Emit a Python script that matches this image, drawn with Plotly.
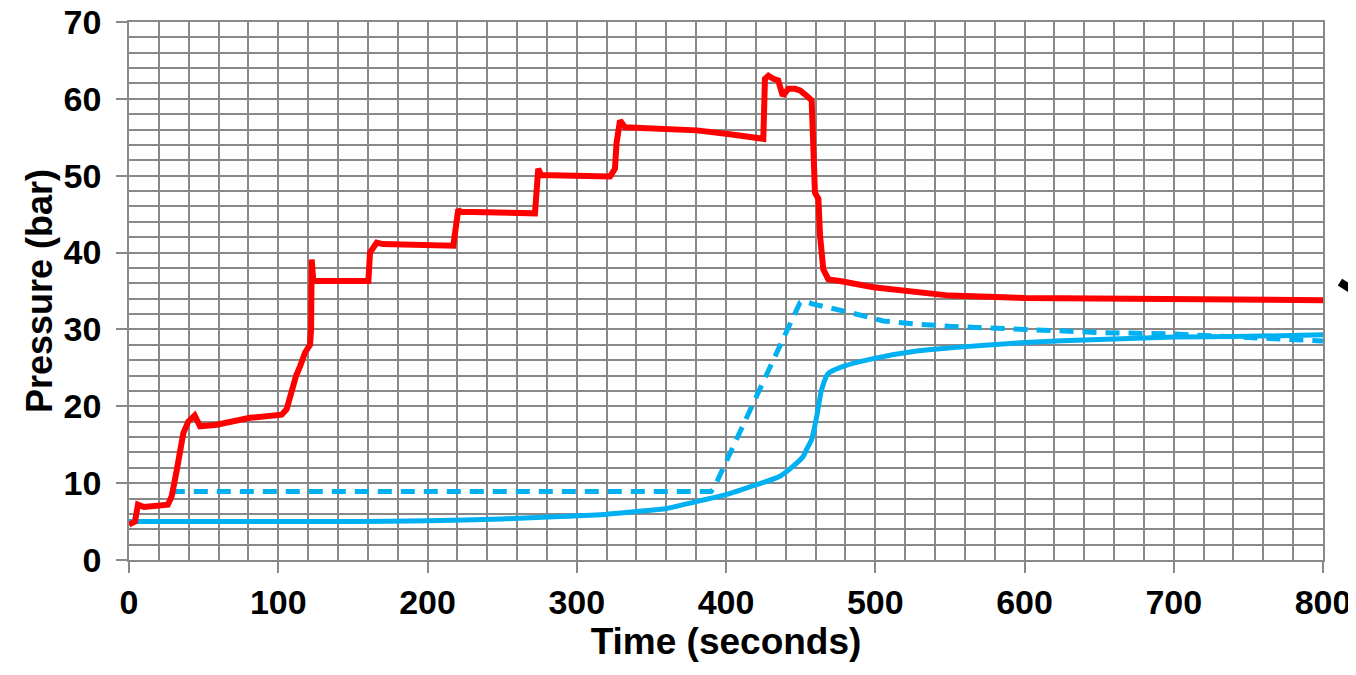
import plotly.graph_objects as go

# ---- data ----
red_t = [0, 4, 6, 10, 26, 28.6, 32, 34.2, 36.4, 39.7, 44, 47.6, 58.8, 81, 102.3, 105.6, 109, 112, 114.6, 118,
         121.3, 122, 122.4, 123.5, 160.4, 161.5, 166, 170, 217.3, 220.6, 222, 272, 274.2, 276, 322.3, 325.6,
         326.7, 329, 332.3, 380.4, 402.7, 425, 426.1, 428.4, 431.7, 435, 438, 441.8, 446.2, 449.6, 454,
         457.4, 459.6, 461.9, 463, 465.2, 468.6, 476.4, 498.7, 516.6, 527.8, 550, 600, 700, 800]
red_v = [4.6, 5, 7.2, 6.9, 7.2, 8.3, 11.7, 14.8, 16.5, 18, 18.8, 17.4, 17.6, 18.5, 18.9, 19.6, 22.2, 24, 25.2, 27,
         28, 30, 39.1, 36.3, 36.3, 40, 41.3, 41.1, 40.9, 45.6, 45.3, 45.1, 50.9, 50.1, 49.9, 50.9,
         54.3, 57.2, 56.3, 55.9, 55.4, 54.8, 62.6, 63, 62.6, 62.4, 60.4, 61.3, 61.3, 61.1, 60.4,
         59.8, 47.8, 47, 42.2, 37.8, 36.5, 36.3, 35.5, 35.1, 34.9, 34.4, 34.1, 33.9, 33.8]

blue_solid_t = [0, 50, 100, 150, 200, 250, 288.8, 320, 340, 360, 380, 400, 420.5, 436.2, 445, 451.8, 454,
                457.4, 460.8, 464.1, 468.6, 478.6, 501, 527.8, 550, 600, 650, 700, 750, 800]
blue_solid_v = [5.0, 5.0, 5.0, 5.0, 5.1, 5.35, 5.65, 5.95, 6.3, 6.7, 7.6, 8.5, 9.8, 10.9, 12.2, 13.5, 14.4,
                15.7, 18.7, 22.2, 24.3, 25.2, 26.3, 27.2, 27.6, 28.3, 28.7, 29.0, 29.1, 29.3]

blue_dash_t = [28, 390, 392, 424, 449.6, 451.8, 458.5, 483, 505.4, 527.8, 550, 600, 650, 700, 750, 800]
blue_dash_v = [8.9, 8.9, 9.4, 23, 33.5, 33.7, 33.3, 32.2, 31.1, 30.7, 30.4, 30.0, 29.6, 29.4, 28.9, 28.5]

x_ticks = [0, 100, 200, 300, 400, 500, 600, 700, 800]
y_ticks = [0, 10, 20, 30, 40, 50, 60, 70]

RED = "#FF0000"
BLUE = "#00B0F0"
GRID = "#898989"
FONT = "Liberation Sans, Arial, sans-serif"

fig = go.Figure()
fig.add_trace(go.Scatter(x=blue_dash_t, y=blue_dash_v, mode="lines",
                         line=dict(color=BLUE, width=5, dash="14px,9px"), showlegend=False))
fig.add_trace(go.Scatter(x=blue_solid_t, y=blue_solid_v, mode="lines",
                         line=dict(color=BLUE, width=5, shape="spline", smoothing=0.6), showlegend=False))
fig.add_trace(go.Scatter(x=red_t, y=red_v, mode="lines",
                         line=dict(color=RED, width=6), showlegend=False))

axis_common = dict(showgrid=True, gridcolor=GRID, gridwidth=1.6, showline=True, linecolor=GRID, linewidth=1.6,
                   ticks="outside", ticklen=11, tickwidth=1.6, tickcolor=GRID, zeroline=False,
                   automargin=False, mirror=True, ticklabeloverflow="allow", ticklabelposition="outside",
                   tickfont=dict(family=FONT, size=34, color="black", weight="bold"))

fig.update_xaxes(range=[0, 800], tickvals=x_ticks, ticktext=[str(v) for v in x_ticks],
                 minor=dict(tickmode="linear", dtick=20, tick0=0, showgrid=True, gridcolor=GRID,
                            gridwidth=1.6, ticks=""),
                 title=dict(text="Time (seconds)", font=dict(family=FONT, size=37, color="black", weight="bold"),
                            standoff=4),
                 **axis_common)
fig.update_yaxes(range=[0, 70], tickvals=y_ticks, ticktext=[str(v) for v in y_ticks],
                 minor=dict(tickmode="linear", dtick=2, tick0=0, showgrid=True, gridcolor=GRID,
                            gridwidth=1.6, ticks=""),
                 ticklabelstandoff=8,
                 title=dict(text="Pressure (bar)", font=dict(family=FONT, size=36, color="black", weight="bold"),
                            standoff=0),
                 **axis_common)

# partial black stroke at the right edge of the image
fig.add_shape(type="line", xref="paper", yref="paper", x0=1.0142, y0=0.5167, x1=1.04, y1=0.48,
              line=dict(color="black", width=8))

fig.update_layout(width=1348, height=659, margin=dict(l=121, r=33, t=14, b=107),
                  plot_bgcolor="white", paper_bgcolor="white")

fig.write_html("out.html")
